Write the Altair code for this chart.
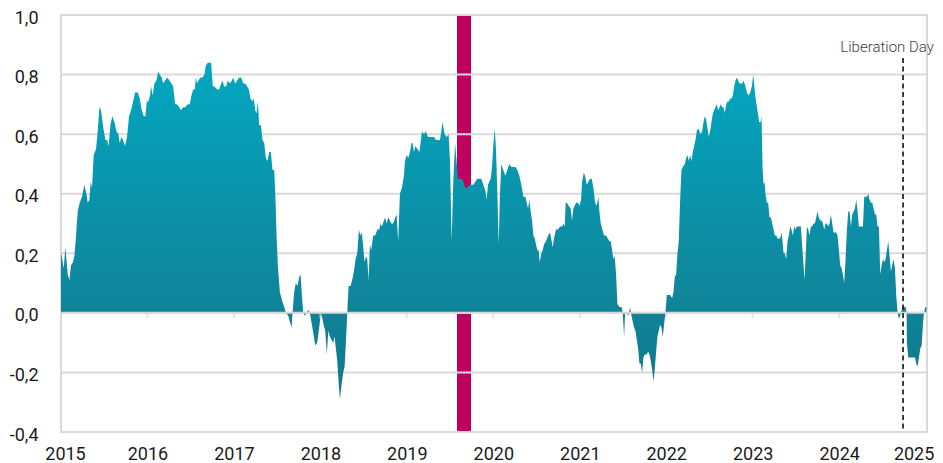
import altair as alt
import pandas as pd

# ---- series (decimal year, value) split by period ----
seg_2015 = [
    (2015.000, 0.20), (2015.008, 0.19), (2015.031, 0.15), (2015.051, 0.22), (2015.078, 0.13),
    (2015.097, 0.11), (2015.116, 0.16), (2015.139, 0.17), (2015.155, 0.19), (2015.174, 0.26),
    (2015.193, 0.34), (2015.216, 0.37), (2015.243, 0.39), (2015.270, 0.43), (2015.294, 0.40),
    (2015.309, 0.37), (2015.328, 0.38), (2015.344, 0.44), (2015.359, 0.42), (2015.378, 0.53),
    (2015.405, 0.55), (2015.425, 0.61), (2015.444, 0.69), (2015.463, 0.68), (2015.490, 0.62),
    (2015.514, 0.58), (2015.533, 0.58), (2015.552, 0.56), (2015.571, 0.63), (2015.594, 0.66),
    (2015.618, 0.64), (2015.641, 0.61), (2015.664, 0.60), (2015.679, 0.57), (2015.699, 0.59),
    (2015.718, 0.58), (2015.741, 0.56), (2015.764, 0.59), (2015.787, 0.66), (2015.810, 0.68),
    (2015.834, 0.71), (2015.857, 0.74), (2015.888, 0.74), (2015.911, 0.72), (2015.934, 0.68),
    (2015.957, 0.66), (2015.976, 0.66), (2015.992, 0.71),
]
seg_2016 = [
    (2016.011, 0.71), (2016.030, 0.73), (2016.042, 0.76), (2016.061, 0.73), (2016.080, 0.77),
    (2016.104, 0.78), (2016.123, 0.81), (2016.142, 0.80), (2016.166, 0.79), (2016.181, 0.77),
    (2016.204, 0.78), (2016.227, 0.79), (2016.254, 0.78), (2016.277, 0.77), (2016.297, 0.76),
    (2016.320, 0.70), (2016.343, 0.70), (2016.366, 0.69), (2016.389, 0.68), (2016.412, 0.69),
    (2016.435, 0.69), (2016.466, 0.70), (2016.490, 0.70), (2016.509, 0.73), (2016.528, 0.75),
    (2016.548, 0.75), (2016.559, 0.79), (2016.574, 0.77), (2016.590, 0.78), (2016.613, 0.79),
    (2016.636, 0.79), (2016.659, 0.80), (2016.675, 0.83), (2016.698, 0.84), (2016.721, 0.84),
    (2016.736, 0.84), (2016.756, 0.76), (2016.775, 0.76), (2016.806, 0.75), (2016.829, 0.75),
    (2016.852, 0.77), (2016.867, 0.78), (2016.887, 0.76), (2016.910, 0.76), (2016.929, 0.78),
    (2016.953, 0.77), (2016.976, 0.78), (2016.991, 0.79),
]
seg_2017 = [
    (2017.014, 0.77), (2017.038, 0.78), (2017.061, 0.79), (2017.084, 0.79), (2017.107, 0.77),
    (2017.130, 0.77), (2017.153, 0.76), (2017.173, 0.75), (2017.192, 0.72), (2017.211, 0.71),
    (2017.230, 0.72), (2017.246, 0.68), (2017.261, 0.67), (2017.277, 0.71), (2017.292, 0.63),
    (2017.312, 0.63), (2017.331, 0.58), (2017.350, 0.57), (2017.369, 0.52), (2017.389, 0.51),
    (2017.408, 0.54), (2017.427, 0.54), (2017.446, 0.48), (2017.466, 0.48), (2017.481, 0.38),
    (2017.493, 0.26), (2017.508, 0.16), (2017.531, 0.07), (2017.558, 0.04), (2017.582, 0.02),
    (2017.601, 0.00), (2017.628, -0.01), (2017.647, -0.03), (2017.667, -0.05), (2017.678, 0.00),
    (2017.697, 0.07), (2017.716, 0.10), (2017.736, 0.09), (2017.755, 0.12), (2017.770, 0.13),
    (2017.786, 0.06), (2017.801, 0.00), (2017.820, -0.01), (2017.840, 0.00), (2017.863, 0.01),
    (2017.878, 0.00), (2017.902, -0.04), (2017.925, -0.08), (2017.940, -0.11), (2017.963, -0.10),
    (2017.986, -0.05),
]
seg_2018 = [
    (2018.002, -0.01), (2018.017, -0.01), (2018.037, -0.04), (2018.056, -0.06), (2018.075, -0.14),
    (2018.091, -0.06), (2018.110, -0.08), (2018.129, -0.09), (2018.149, -0.10), (2018.164, -0.08),
    (2018.179, -0.12), (2018.195, -0.16), (2018.210, -0.23), (2018.226, -0.29), (2018.241, -0.25),
    (2018.264, -0.20), (2018.280, -0.18), (2018.295, -0.10), (2018.311, 0.00), (2018.326, 0.09),
    (2018.349, 0.09), (2018.368, 0.11), (2018.388, 0.14), (2018.407, 0.18), (2018.426, 0.20),
    (2018.446, 0.28), (2018.461, 0.26), (2018.480, 0.27), (2018.496, 0.22), (2018.511, 0.17),
    (2018.527, 0.19), (2018.542, 0.18), (2018.557, 0.11), (2018.573, 0.23), (2018.588, 0.21),
    (2018.611, 0.26), (2018.635, 0.26), (2018.658, 0.28), (2018.681, 0.28), (2018.696, 0.30),
    (2018.712, 0.29), (2018.735, 0.31), (2018.750, 0.32), (2018.765, 0.30), (2018.785, 0.32),
    (2018.804, 0.31), (2018.819, 0.30), (2018.842, 0.30), (2018.866, 0.32), (2018.881, 0.33),
    (2018.900, 0.24), (2018.920, 0.40), (2018.943, 0.42), (2018.966, 0.46), (2018.978, 0.51),
    (2018.997, 0.53),
]
seg_2019 = [
    (2019.017, 0.52), (2019.036, 0.54), (2019.055, 0.57), (2019.067, 0.57), (2019.082, 0.54),
    (2019.098, 0.56), (2019.121, 0.55), (2019.144, 0.54), (2019.159, 0.57), (2019.175, 0.61),
    (2019.198, 0.60), (2019.221, 0.61), (2019.244, 0.59), (2019.267, 0.59), (2019.291, 0.59),
    (2019.314, 0.59), (2019.337, 0.58), (2019.360, 0.58), (2019.383, 0.58), (2019.399, 0.61),
    (2019.410, 0.64), (2019.426, 0.62), (2019.437, 0.60), (2019.460, 0.59), (2019.483, 0.60),
    (2019.499, 0.51), (2019.518, 0.24), (2019.537, 0.44), (2019.557, 0.57), (2019.572, 0.52),
    (2019.591, 0.45), (2019.614, 0.45), (2019.637, 0.45), (2019.653, 0.44), (2019.676, 0.42),
    (2019.699, 0.42), (2019.722, 0.43), (2019.746, 0.43), (2019.769, 0.43), (2019.792, 0.44),
    (2019.815, 0.45), (2019.838, 0.45), (2019.861, 0.45), (2019.885, 0.43), (2019.908, 0.41),
    (2019.923, 0.38), (2019.939, 0.43), (2019.954, 0.44), (2019.970, 0.45), (2019.985, 0.49),
]
seg_2020 = [
    (2020.000, 0.56), (2020.016, 0.62), (2020.031, 0.55), (2020.047, 0.40), (2020.062, 0.23),
    (2020.077, 0.40), (2020.093, 0.50), (2020.116, 0.48), (2020.139, 0.46), (2020.162, 0.48),
    (2020.185, 0.50), (2020.209, 0.49), (2020.232, 0.49), (2020.255, 0.49), (2020.278, 0.48),
    (2020.301, 0.46), (2020.324, 0.43), (2020.348, 0.39), (2020.371, 0.39), (2020.386, 0.37),
    (2020.402, 0.35), (2020.417, 0.38), (2020.432, 0.34), (2020.448, 0.31), (2020.463, 0.26),
    (2020.479, 0.25), (2020.494, 0.23), (2020.509, 0.21), (2020.525, 0.21), (2020.536, 0.17),
    (2020.556, 0.20), (2020.571, 0.21), (2020.587, 0.23), (2020.610, 0.24), (2020.633, 0.26),
    (2020.656, 0.27), (2020.675, 0.24), (2020.687, 0.22), (2020.702, 0.25), (2020.725, 0.28),
    (2020.748, 0.28), (2020.772, 0.29), (2020.795, 0.29), (2020.810, 0.30), (2020.826, 0.29),
    (2020.837, 0.37), (2020.849, 0.37), (2020.872, 0.36), (2020.895, 0.35), (2020.910, 0.31),
    (2020.926, 0.35), (2020.957, 0.37), (2020.980, 0.37), (2020.996, 0.36),
]
seg_2021 = [
    (2021.015, 0.38), (2021.027, 0.44), (2021.046, 0.47), (2021.061, 0.46), (2021.081, 0.43),
    (2021.100, 0.44), (2021.119, 0.45), (2021.138, 0.45), (2021.158, 0.42), (2021.177, 0.37),
    (2021.196, 0.36), (2021.216, 0.39), (2021.227, 0.34), (2021.243, 0.30), (2021.262, 0.28),
    (2021.281, 0.26), (2021.304, 0.26), (2021.324, 0.25), (2021.343, 0.24), (2021.358, 0.24),
    (2021.374, 0.21), (2021.389, 0.18), (2021.404, 0.19), (2021.420, 0.13), (2021.435, 0.03),
    (2021.459, 0.02), (2021.482, 0.02), (2021.497, 0.00), (2021.513, -0.08), (2021.524, 0.00),
    (2021.544, 0.00), (2021.563, -0.01), (2021.582, 0.02), (2021.598, -0.01), (2021.613, -0.03),
    (2021.628, -0.05), (2021.644, -0.06), (2021.659, -0.09), (2021.675, -0.12), (2021.690, -0.17),
    (2021.705, -0.17), (2021.721, -0.20), (2021.736, -0.15), (2021.752, -0.14), (2021.775, -0.14),
    (2021.790, -0.13), (2021.806, -0.14), (2021.821, -0.16), (2021.837, -0.19), (2021.852, -0.23),
    (2021.867, -0.19), (2021.883, -0.13), (2021.898, -0.08), (2021.914, -0.06), (2021.929, -0.04),
    (2021.945, -0.05), (2021.960, -0.08), (2021.975, -0.04), (2021.991, 0.00),
]
seg_2022 = [
    (2022.006, 0.06), (2022.026, 0.06), (2022.045, 0.06), (2022.068, 0.05), (2022.084, 0.07),
    (2022.099, 0.12), (2022.115, 0.13), (2022.130, 0.20), (2022.145, 0.24), (2022.161, 0.38),
    (2022.176, 0.48), (2022.192, 0.49), (2022.215, 0.50), (2022.230, 0.52), (2022.245, 0.53),
    (2022.261, 0.51), (2022.276, 0.53), (2022.292, 0.51), (2022.307, 0.54), (2022.323, 0.56),
    (2022.338, 0.58), (2022.353, 0.61), (2022.369, 0.62), (2022.384, 0.61), (2022.400, 0.60),
    (2022.415, 0.61), (2022.431, 0.64), (2022.446, 0.66), (2022.461, 0.65), (2022.477, 0.62),
    (2022.492, 0.59), (2022.508, 0.61), (2022.523, 0.64), (2022.539, 0.67), (2022.554, 0.68),
    (2022.569, 0.69), (2022.585, 0.70), (2022.600, 0.68), (2022.616, 0.69), (2022.631, 0.70),
    (2022.647, 0.69), (2022.662, 0.69), (2022.677, 0.67), (2022.693, 0.70), (2022.708, 0.71),
    (2022.724, 0.71), (2022.739, 0.72), (2022.755, 0.72), (2022.770, 0.73), (2022.785, 0.76),
    (2022.801, 0.78), (2022.816, 0.79), (2022.832, 0.78), (2022.847, 0.77), (2022.863, 0.77),
    (2022.878, 0.77), (2022.894, 0.78), (2022.917, 0.76), (2022.932, 0.74), (2022.952, 0.73),
    (2022.971, 0.74), (2022.990, 0.76),
]
seg_2023 = [
    (2023.006, 0.80), (2023.017, 0.77), (2023.029, 0.73), (2023.044, 0.70), (2023.060, 0.67),
    (2023.075, 0.64), (2023.091, 0.64), (2023.102, 0.66), (2023.114, 0.49), (2023.125, 0.43),
    (2023.137, 0.44), (2023.148, 0.40), (2023.164, 0.37), (2023.179, 0.37), (2023.195, 0.32),
    (2023.210, 0.32), (2023.226, 0.30), (2023.241, 0.28), (2023.256, 0.26), (2023.272, 0.26),
    (2023.287, 0.25), (2023.303, 0.25), (2023.318, 0.25), (2023.334, 0.27), (2023.345, 0.24),
    (2023.357, 0.20), (2023.372, 0.20), (2023.387, 0.18), (2023.403, 0.24), (2023.418, 0.26),
    (2023.434, 0.29), (2023.449, 0.28), (2023.465, 0.26), (2023.480, 0.29), (2023.495, 0.28),
    (2023.511, 0.29), (2023.526, 0.29), (2023.542, 0.29), (2023.557, 0.29), (2023.573, 0.22),
    (2023.588, 0.16), (2023.600, 0.11), (2023.615, 0.21), (2023.627, 0.29), (2023.642, 0.28),
    (2023.657, 0.26), (2023.673, 0.29), (2023.688, 0.29), (2023.704, 0.30), (2023.719, 0.30),
    (2023.735, 0.32), (2023.750, 0.34), (2023.765, 0.32), (2023.781, 0.31), (2023.796, 0.31),
    (2023.812, 0.30), (2023.827, 0.28), (2023.843, 0.30), (2023.858, 0.30), (2023.873, 0.29),
    (2023.889, 0.30), (2023.904, 0.33), (2023.920, 0.30), (2023.935, 0.27), (2023.951, 0.27),
    (2023.966, 0.27), (2023.981, 0.26), (2023.997, 0.21),
]
seg_2024 = [
    (2024.012, 0.16), (2024.028, 0.15), (2024.043, 0.13), (2024.059, 0.10), (2024.074, 0.18),
    (2024.090, 0.28), (2024.105, 0.34), (2024.120, 0.34), (2024.136, 0.29), (2024.151, 0.33),
    (2024.167, 0.34), (2024.182, 0.35), (2024.198, 0.38), (2024.213, 0.34), (2024.228, 0.29),
    (2024.244, 0.29), (2024.259, 0.29), (2024.275, 0.29), (2024.290, 0.39), (2024.306, 0.39),
    (2024.321, 0.39), (2024.336, 0.40), (2024.352, 0.38), (2024.367, 0.37), (2024.383, 0.37),
    (2024.398, 0.35), (2024.414, 0.33), (2024.429, 0.33), (2024.444, 0.29), (2024.460, 0.29),
    (2024.475, 0.13), (2024.491, 0.16), (2024.506, 0.18), (2024.522, 0.17), (2024.537, 0.18),
    (2024.552, 0.21), (2024.568, 0.24), (2024.583, 0.19), (2024.599, 0.14), (2024.614, 0.16),
    (2024.630, 0.18), (2024.645, 0.15), (2024.660, 0.06), (2024.676, 0.00), (2024.691, -0.02),
    (2024.707, -0.01), (2024.722, 0.01), (2024.738, 0.02), (2024.753, 0.02), (2024.769, 0.02),
    (2024.780, 0.00), (2024.784, -0.10), (2024.799, -0.15), (2024.815, -0.15), (2024.830, -0.15),
    (2024.846, -0.15), (2024.861, -0.15), (2024.877, -0.15), (2024.892, -0.17), (2024.907, -0.18),
    (2024.923, -0.15), (2024.938, -0.12), (2024.954, -0.11), (2024.969, -0.04), (2024.981, 0.00),
    (2024.996, 0.02), (2025.008, 0.02),
]

# ---- annotations / axes ----
year_ticks = [2015, 2016, 2017, 2018, 2019, 2020, 2021, 2022, 2023, 2024, 2025]
inner_ticks = [2016, 2017, 2018, 2019, 2020, 2021, 2022, 2023, 2024]
y_ticks = [-0.4, -0.2, 0.0, 0.2, 0.4, 0.6, 0.8, 1.0]
band_start = [2019.580]
band_end = [2019.742]
event_x = [2024.739]
event_top = [0.856]
event_label = ["Liberation Day"]
label_x = [2024.013]
label_y = [0.876]
x_domain = [2015.0, 2025.016]
y_domain = [-0.4, 1.0]

segments = [seg_2015, seg_2016, seg_2017, seg_2018, seg_2019, seg_2020,
            seg_2021, seg_2022, seg_2023, seg_2024]
series = pd.DataFrame([p for s in segments for p in s], columns=["year", "value"])
band_df = pd.DataFrame({"start": band_start, "end": band_end})
grid_df = pd.DataFrame({"v": y_ticks})
tick_df = pd.DataFrame({"year": inner_ticks, "zero": [0.0] * len(inner_ticks)})
zero_df = pd.DataFrame({"zero": [0.0]})
event_df = pd.DataFrame({"x": event_x, "top": event_top, "bottom": [y_domain[0]]})
label_df = pd.DataFrame({"x": label_x, "y": label_y, "label": event_label})

FONT = "Roboto"
GRID = "#d9d9d9"
xs = alt.Scale(domain=x_domain, nice=False, zero=False)
ys = alt.Scale(domain=y_domain, nice=False, zero=False)

x_axis = alt.Axis(values=year_ticks, format="d", title=None, ticks=False, domain=False,
                  grid=False, labelFont=FONT, labelFontSize=18, labelColor="#1a1a1a",
                  labelPadding=13, labelFlush=False, labelOverlap=False, labelBound=False,
                  labelOffset=alt.ExprRef(
                      "datum.value == 2015 ? 4 : (datum.value == 2025 ? -12 : 0)"))
y_axis = alt.Axis(values=y_ticks, title=None, ticks=False, domain=False, grid=False,
                  labelFont=FONT, labelFontSize=18, labelColor="#1a1a1a", labelPadding=23,
                  labelOffset=3, labelBound=False,
                  labelExpr="replace((datum.value < -0.001 ? '-' : '') + format(abs(datum.value), '.1f'), '.', ',')")


def X(field):
    return alt.X(field, scale=xs, axis=x_axis)


def Y(field):
    return alt.Y(field, scale=ys, axis=y_axis)


band = alt.Chart(band_df).mark_rect(color="#BE0060").encode(
    x=X("start:Q"), x2="end:Q")

grid = alt.Chart(grid_df).mark_rule(color=GRID, strokeWidth=2).encode(y=Y("v:Q"))

gradient = alt.Gradient(
    gradient="linear",
    stops=[alt.GradientStop(color="#02A7C0", offset=0),
           alt.GradientStop(color="#0E8AA0", offset=0.6),
           alt.GradientStop(color="#117789", offset=1)],
    x1=0, x2=0, y1=0, y2=1)

area = alt.Chart(series).mark_area(color=gradient, interpolate="linear").encode(
    x=X("year:Q"), y=Y("value:Q"))

zero = alt.Chart(zero_df).mark_rule(color=GRID, strokeWidth=2).encode(y=Y("zero:Q"))

ticks = alt.Chart(tick_df).mark_tick(orient="vertical", size=5, thickness=2, yOffset=3,
                                     color=GRID).encode(x=X("year:Q"), y=Y("zero:Q"))

event = alt.Chart(event_df).mark_rule(color="#000000", strokeWidth=1.5,
                                      strokeDash=[5, 3.5]).encode(
    x=X("x:Q"), y=Y("top:Q"), y2="bottom:Q")

label = alt.Chart(label_df).mark_text(align="left", baseline="alphabetic", font=FONT,
                                      fontSize=15, fontWeight=300, color="#404040").encode(
    x=X("x:Q"), y=Y("y:Q"), text="label:N")

chart = alt.layer(band, grid, area, zero, ticks, event, label).properties(
    width=866, height=417,
    autosize=alt.AutoSizeParams(type="none"),
    padding={"left": 53, "top": 7, "right": 8, "bottom": 31},
    background="white",
).configure_view(stroke=GRID, strokeWidth=2)

chart.save("out.html", embed_options={"renderer": "svg", "actions": False})
